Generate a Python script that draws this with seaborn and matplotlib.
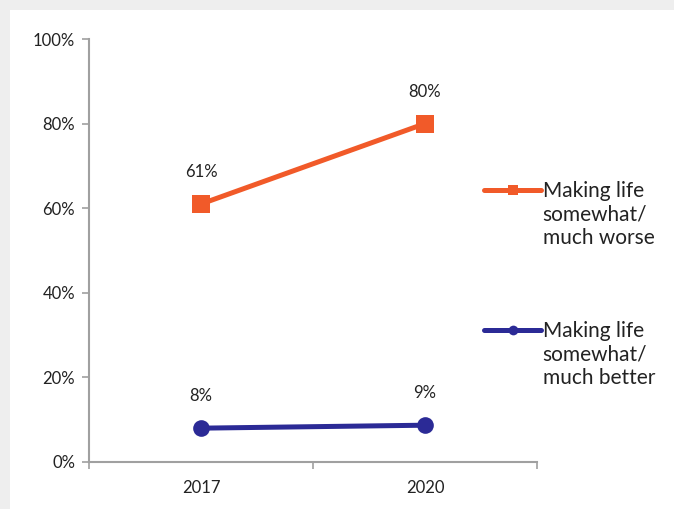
import matplotlib
matplotlib.use("Agg")
import matplotlib.pyplot as plt
import matplotlib.patches as mpatches
from matplotlib.legend_handler import HandlerLine2D
from matplotlib.lines import Line2D
import seaborn as sns
import pandas as pd
from matplotlib.ticker import PercentFormatter, FixedLocator

years = ["2017", "2020"]
worse = [0.61, 0.80]
better = [0.08, 0.087]
series_names = ["Making life\nsomewhat/\nmuch worse", "Making life\nsomewhat/\nmuch better"]
worse_labels = ["61%", "80%"]
better_labels = ["8%", "9%"]

sns.set_theme(style="white")
plt.rcParams["font.family"] = ["Lato", "DejaVu Sans"]

df = pd.DataFrame({
    "year": years * 2,
    "value": worse + better,
    "series": [series_names[0]] * 2 + [series_names[1]] * 2,
})

fig = plt.figure(figsize=(6.74, 5.09), dpi=100, facecolor="#EEEEEE")
fig.patches.append(mpatches.Rectangle((10 / 674, 0), 1, 1 - 10 / 509,
                                      transform=fig.transFigure, facecolor="white",
                                      edgecolor="none", zorder=-10))
ax = fig.add_axes([89 / 674, 1 - 462 / 509, (537 - 89) / 674, (462 - 39) / 509])
ax.set_zorder(5)
ax.set_facecolor("none")

orange = "#F15A29"
blue = "#2B2A96"
sns.lineplot(data=df, x="year", y="value", hue="series", style="series",
             palette=[orange, blue], markers=["s", "o"], dashes=False,
             linewidth=3.6, markersize=13, markeredgewidth=0, ax=ax, sort=False,
             legend=False)
ax.lines[1].set_markersize(12)

for i, (v, t) in enumerate(zip(worse, worse_labels)):
    ax.annotate(t, (i, v), xytext=(0, 23), textcoords="offset points",
                ha="center", va="center", fontsize=12, color="#222222")
for i, (v, t) in enumerate(zip(better, better_labels)):
    ax.annotate(t, (i, v), xytext=(0, 23), textcoords="offset points",
                ha="center", va="center", fontsize=12, color="#222222")

ax.set_xlim(-0.5, 1.5)
ax.set_ylim(0, 1.0)
ax.set_yticks([0, 0.2, 0.4, 0.6, 0.8, 1.0])
ax.yaxis.set_major_formatter(PercentFormatter(1.0, decimals=0))
ax.set_xticks([0, 1])
ax.set_xticklabels(years)
ax.xaxis.set_minor_locator(FixedLocator([-0.5, 0.5, 1.5]))
ax.tick_params(axis="x", which="major", length=0, pad=13, labelsize=12, colors="#222222")
ax.tick_params(axis="x", which="minor", length=5, width=1.2, color="#A0A0A0", direction="out", bottom=True)
ax.tick_params(axis="y", length=5, width=1.2, color="#A0A0A0", direction="out", left=True,
               labelsize=12, labelcolor="#222222", pad=5)
ax.set_xlabel("")
ax.set_ylabel("")
for s in ["top", "right"]:
    ax.spines[s].set_visible(False)
for s in ["left", "bottom"]:
    ax.spines[s].set_color("#A0A0A0")
    ax.spines[s].set_linewidth(1.5)


class TopLineHandler(HandlerLine2D):
    def create_artists(self, legend, orig_handle, xdescent, ydescent, width, height, fontsize, trans):
        arts = super().create_artists(legend, orig_handle, xdescent, ydescent, width, height, fontsize, trans)
        for a in arts:
            a.set_ydata([y + 18.5 for y in a.get_ydata()])
        return arts


leg_handles = [
    Line2D([], [], color=orange, lw=3.6, marker="s", markersize=7, markeredgewidth=0),
    Line2D([], [], color=blue, lw=3.6, marker="o", markersize=7, markeredgewidth=0),
]
leg = fig.legend(leg_handles, series_names, loc="upper left",
                 bbox_to_anchor=(474 / 674, 1 - 171 / 509),
                 frameon=False, fontsize=15, handlelength=2.7, handletextpad=0.1,
                 labelspacing=3.5, borderpad=0, labelcolor="#222222",
                 handler_map={Line2D: TopLineHandler()})
for t in leg.get_texts():
    t.set_linespacing(1.22)

fig.savefig("out.png", dpi=100, facecolor=fig.get_facecolor())
